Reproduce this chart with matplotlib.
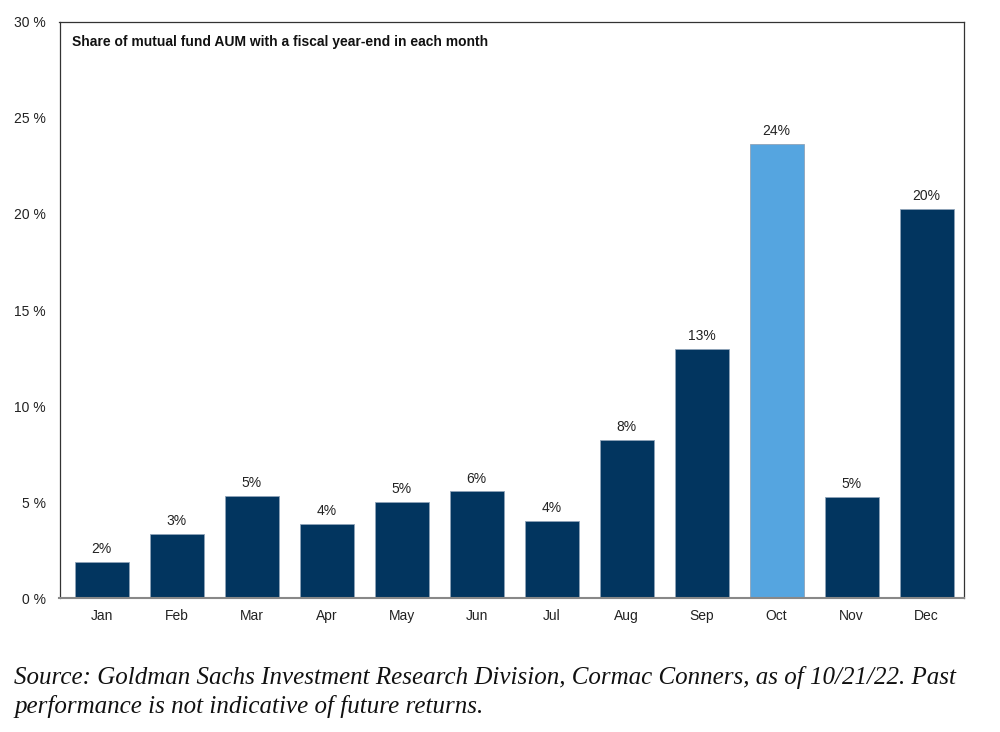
import numpy as np
import matplotlib
matplotlib.use("Agg")
import matplotlib.pyplot as plt
from matplotlib.ticker import FuncFormatter

months = ["Jan", "Feb", "Mar", "Apr", "May", "Jun", "Jul", "Aug", "Sep", "Oct", "Nov", "Dec"]
share = [1.88, 3.34, 5.31, 3.86, 5.0, 5.55, 4.0, 8.25, 12.96, 23.65, 5.28, 20.25]  # % of AUM
highlight = "Oct"

navy = "#02355f"
light = "#55a5e0"

plt.rcParams['font.family'] = ['Liberation Sans', 'DejaVu Sans']

fig = plt.figure(figsize=(10, 7.32), dpi=100)
ax = fig.add_axes([0.0595, 0.183, 0.9045, 0.787])

x = np.arange(len(months))
cols = [light if m == highlight else navy for m in months]
ax.bar(x, share, width=0.72, color=cols, edgecolor="#8fa3b8", linewidth=0.6, zorder=2)

for xi, v in zip(x, share):
    ax.text(xi, v + 0.3, "{:.0f}%".format(v), ha="center", va="bottom",
            fontsize=10, color="#222222")

ax.set_xlim(-0.56, len(months) - 0.5)
ax.set_ylim(0, 30)
ax.set_yticks(np.arange(0, 31, 5))
ax.yaxis.set_major_formatter(FuncFormatter(lambda v, p: "{:.0f} %".format(v)))
ax.set_xticks(x)
ax.set_xticklabels(months)
ax.tick_params(axis="both", length=0, labelsize=10, colors="#222222")
ax.tick_params(axis="x", pad=8)
ax.tick_params(axis="y", pad=10)

for s in ["top", "right", "left"]:
    ax.spines[s].set_color("#333333")
    ax.spines[s].set_linewidth(0.9)
ax.spines["bottom"].set_color("#888888")
ax.spines["bottom"].set_linewidth(1.5)

ax.text(0.014, 0.965, "Share of mutual fund AUM with a fiscal year-end in each month",
        transform=ax.transAxes, ha="left", va="center", fontsize=10, fontweight="bold",
        color="#111111")

# source note, two lines
src_font = dict(ha="left", va="baseline", fontsize=18, style="italic",
                family=["Liberation Serif", "DejaVu Serif"], color="#111111")
fig.text(0.014, 0.0656,
         "Source: Goldman Sachs Investment Research Division, Cormac Conners, as of 10/21/22. Past",
         **src_font)
fig.text(0.014, 0.026, "performance is not indicative of future returns.", **src_font)

fig.savefig("out.png", dpi=100, facecolor="white")
